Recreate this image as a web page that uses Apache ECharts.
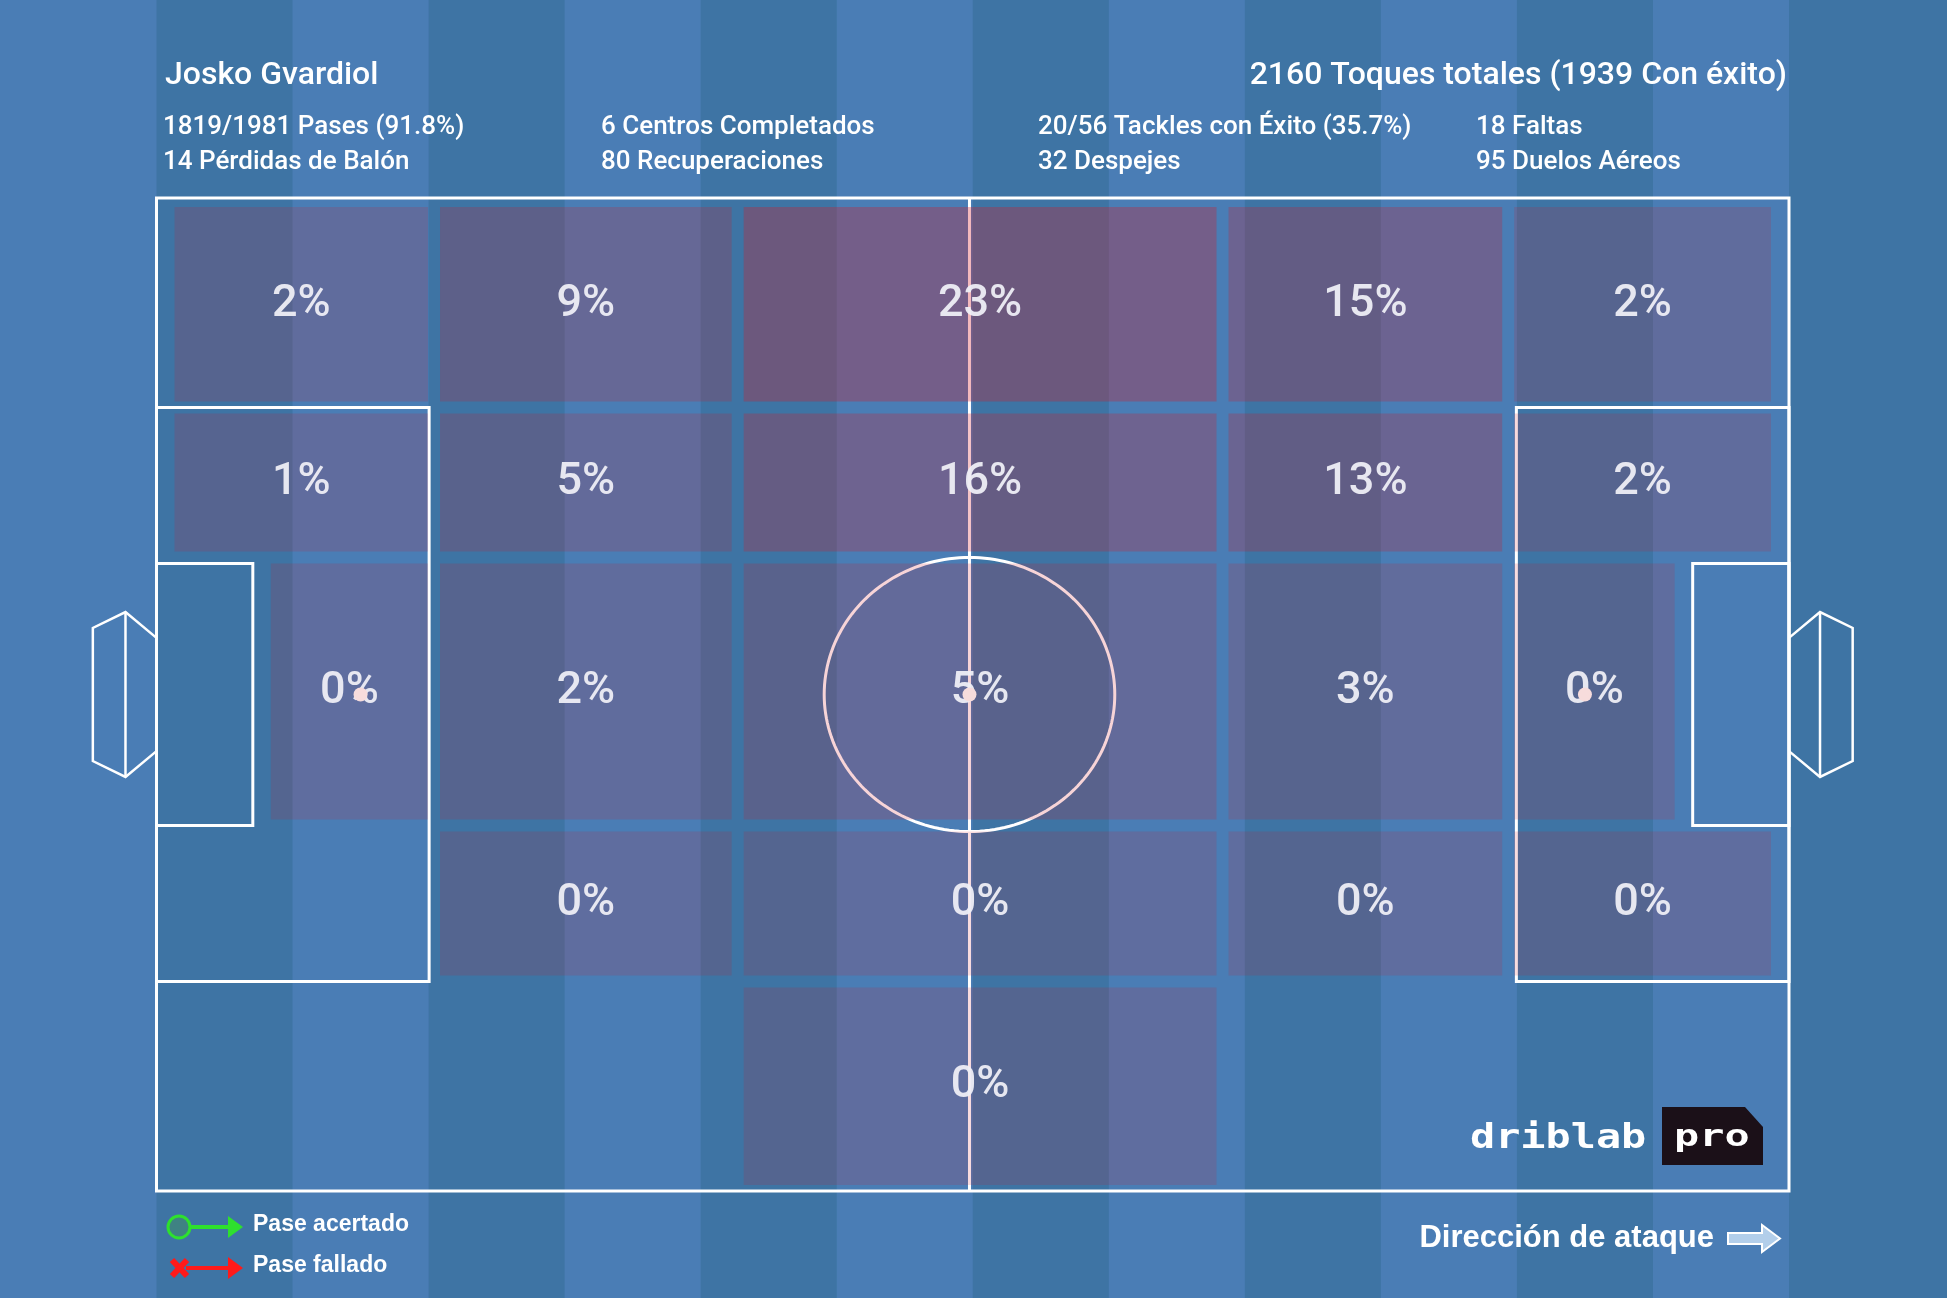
<!DOCTYPE html>
<html>
<head>
<meta charset="utf-8">
<script src="https://cdn.jsdelivr.net/npm/echarts@6/dist/echarts.min.js"></script>
<style>
html,body{margin:0;padding:0;background:#4a7db5;}
#c{width:1947px;height:1298px;}
</style>
</head>
<body>
<div id="c"></div>
<script>
// ---------------- DATA ----------------
const playerName = 'Josko Gvardiol';
const totalTouches = '2160 Toques totales (1939 Con éxito)';
const statsCol1 = ['1819/1981 Pases (91.8%)', '14 Pérdidas de Balón'];
const statsCol2 = ['6 Centros Completados', '80 Recuperaciones'];
const statsCol3 = ['20/56 Tackles con Éxito (35.7%)', '32 Despejes'];
const statsCol4 = ['18 Faltas', '95 Duelos Aéreos'];

// zone bin edges in pitch units (0-100); x = attacking direction, y = top to bottom
const zoneX = [0, 17, 35.6, 65.3, 82.8, 100];
const zoneY = [0, 21.1, 36.2, 63.2, 78.9, 100];

// share of touches per zone (%), [row][col]; null = no touches in zone
const row1Pct = [2, 9, 23, 15, 2];
const row2Pct = [1, 5, 16, 13, 2];
const row3Pct = [0, 2, 5, 3, 0];
const row4Pct = [null, 0, 0, 0, 0];
const row5Pct = [null, null, 0, null, null];
const zonePct = [row1Pct, row2Pct, row3Pct, row4Pct, row5Pct];

const legendLabels = ['Pase acertado', 'Pase fallado'];
const directionLabel = 'Dirección de ataque';

// ---------------- PITCH MARKINGS (Opta-like 100x100 units) ----------------
const PITCH = {
  midX: 49.8,
  boxDepth: 16.7, boxY: [21.1, 78.9],
  sixDepth: 5.9, sixY: [36.8, 63.2],
  circleRx: 8.9, circleRy: 13.8,
  spotX: 12.5,
  goalApex: 1.9, goalBack: 3.9, goalMouth: 5.7, goalApexHalf: 8.3, goalBackHalf: 6.7
};
const spots = [[PITCH.spotX, 50], [PITCH.midX, 50], [100 - PITCH.spotX, 50]];

const FONT = 'Roboto, "Liberation Sans", Arial, sans-serif';
const FONT_B = '"Liberation Sans", Arial, sans-serif';
const DARK_STRIPE = '#3e74a4';
const LINE = '#ffffff';

// build zone data
const zoneData = [];
zonePct.forEach((row, r) => row.forEach((v, c) => { if (v !== null) zoneData.push([c, r, v]); }));
const maxPct = Math.max(...zoneData.map(d => d[2]));

// dark stripe indices across the pitch (12 stripes) + one trailing margin stripe
const stripeIdx = [];
for (let k = 0; k <= 12; k += 2) stripeIdx.push([k]);

const chart = echarts.init(document.getElementById('c'), null, {renderer: 'canvas', width: 1947, height: 1298});

function stripesRender(params, api) {
  const k = api.value(0);
  const w = 100 / 12;
  const x0 = k * w, x1 = k === 12 ? 140 : (k + 1) * w;
  const a = api.coord([x0, -40]), b = api.coord([x1, 140]);
  return {type: 'rect', shape: {x: a[0], y: a[1], width: b[0] - a[0], height: b[1] - a[1]},
          style: {fill: DARK_STRIPE}};
}

function pitchRender(params, api) {
  const P = (x, y) => api.coord([x, y]);
  const st = {fill: 'none', stroke: LINE, lineWidth: 3};
  const rect = (x0, y0, x1, y1) => {
    const a = P(x0, y0), b = P(x1, y1);
    return {type: 'rect', shape: {x: a[0], y: a[1], width: b[0] - a[0], height: b[1] - a[1]}, style: st};
  };
  const kids = [];
  kids.push(rect(0, 0, 100, 100));
  const m0 = P(PITCH.midX, 0), m1 = P(PITCH.midX, 100);
  kids.push({type: 'line', shape: {x1: m0[0], y1: m0[1], x2: m1[0], y2: m1[1]}, style: st});
  kids.push(rect(0, PITCH.boxY[0], PITCH.boxDepth, PITCH.boxY[1]));
  kids.push(rect(100 - PITCH.boxDepth, PITCH.boxY[0], 100, PITCH.boxY[1]));
  kids.push(rect(0, PITCH.sixY[0], PITCH.sixDepth, PITCH.sixY[1]));
  kids.push(rect(100 - PITCH.sixDepth, PITCH.sixY[0], 100, PITCH.sixY[1]));
  const circ = [];
  for (let i = 0; i <= 180; i++) {
    const t = i / 180 * Math.PI * 2;
    circ.push(P(PITCH.midX + PITCH.circleRx * Math.cos(t), 50 + PITCH.circleRy * Math.sin(t)));
  }
  kids.push({type: 'polyline', shape: {points: circ}, style: st});
  [0, 1].forEach(side => {
    const fx = x => side === 0 ? x : 100 - x;
    const pts = [
      P(fx(0), 50 - PITCH.goalMouth), P(fx(-PITCH.goalApex), 50 - PITCH.goalApexHalf),
      P(fx(-PITCH.goalBack), 50 - PITCH.goalBackHalf), P(fx(-PITCH.goalBack), 50 + PITCH.goalBackHalf),
      P(fx(-PITCH.goalApex), 50 + PITCH.goalApexHalf), P(fx(0), 50 + PITCH.goalMouth)
    ];
    kids.push({type: 'polyline', shape: {points: pts}, style: {fill: 'none', stroke: LINE, lineWidth: 2.5}});
    const t = P(fx(-PITCH.goalApex), 50 - PITCH.goalApexHalf), b = P(fx(-PITCH.goalApex), 50 + PITCH.goalApexHalf);
    kids.push({type: 'line', shape: {x1: t[0], y1: t[1], x2: b[0], y2: b[1]}, style: {stroke: LINE, lineWidth: 2.5}});
  });
  return {type: 'group', children: kids};
}

function zoneRender(params, api) {
  const c = api.value(0), r = api.value(1), v = api.value(2);
  let x0 = zoneX[c], x1 = zoneX[c + 1];
  const y0 = zoneY[r], y1 = zoneY[r + 1];
  const centralRow = y0 < 50 && y1 > 50;
  let edgeL = x0 === 0, edgeR = x1 === 100;
  if (centralRow && c === 0) { x0 = PITCH.sixDepth; edgeL = true; }
  if (centralRow && c === zoneX.length - 2) { x1 = 100 - PITCH.sixDepth; edgeR = true; }
  const a = api.coord([x0, y0]), b = api.coord([x1, y1]);
  const inner = 6, edgeX = 18, edgeY = 9;
  const L = a[0] + (edgeL ? edgeX : inner);
  const R = b[0] - (edgeR ? edgeX : inner);
  const T = a[1] + (y0 === 0 ? edgeY : inner);
  const B = b[1] - (y1 === 100 ? 6 : inner);
  const alpha = 0.15 + 0.15 * v / maxPct;
  return {
    type: 'group',
    children: [
      {type: 'rect', shape: {x: L, y: T, width: R - L, height: B - T},
       style: {fill: 'rgba(214,22,36,' + alpha.toFixed(3) + ')'}},
      {type: 'text', x: (L + R) / 2, y: (T + B) / 2,
       style: {text: v + '%', fill: 'rgba(238,238,246,0.95)', font: '500 45px ' + FONT,
               textAlign: 'center', textVerticalAlign: 'middle'}}
    ]
  };
}

function spotRender(params, api) {
  const p = api.coord([api.value(0), api.value(1)]);
  return {type: 'circle', shape: {cx: p[0], cy: p[1], r: 7}, style: {fill: '#f7dcdc'}};
}

// ---------------- GRAPHIC (texts, legend, logo) ----------------
const g = [];
const txt = (x, y, text, font, align, fill) => ({
  type: 'text', x: x, y: y, z: 100,
  style: {text: text, font: font, fill: fill || '#ffffff', textAlign: align || 'left', textVerticalAlign: 'middle'}
});
g.push(txt(165, 76, playerName, '500 32px ' + FONT));
g.push(txt(1787, 76, totalTouches, '500 32px ' + FONT, 'right'));
[[statsCol1, 163], [statsCol2, 601], [statsCol3, 1038], [statsCol4, 1476]].forEach(([col, x]) => {
  g.push(txt(x, 127, col[0], '500 26px ' + FONT));
  g.push(txt(x, 162, col[1], '500 26px ' + FONT));
});
// legend: successful pass
g.push({type: 'line', z: 100, shape: {x1: 190, y1: 1227, x2: 230, y2: 1227}, style: {stroke: '#2ee02e', lineWidth: 4}});
g.push({type: 'polygon', z: 100, shape: {points: [[228, 1216], [243, 1227], [228, 1238]]}, style: {fill: '#2ee02e'}});
g.push({type: 'circle', z: 101, shape: {cx: 179, cy: 1227, r: 11}, style: {fill: '#3f8283', stroke: '#2ee02e', lineWidth: 3}});
g.push(txt(253, 1225, legendLabels[0], 'bold 23px ' + FONT_B));
// legend: failed pass
g.push({type: 'line', z: 100, shape: {x1: 186, y1: 1268, x2: 230, y2: 1268}, style: {stroke: '#ff1a1a', lineWidth: 4}});
g.push({type: 'polygon', z: 100, shape: {points: [[228, 1257], [243, 1268], [228, 1279]]}, style: {fill: '#ff1a1a'}});
g.push({type: 'line', z: 101, shape: {x1: 172, y1: 1260, x2: 187, y2: 1276}, style: {stroke: '#ff1a1a', lineWidth: 6}});
g.push({type: 'line', z: 101, shape: {x1: 172, y1: 1276, x2: 187, y2: 1260}, style: {stroke: '#ff1a1a', lineWidth: 6}});
g.push(txt(253, 1266, legendLabels[1], 'bold 23px ' + FONT_B));
// direction of attack
g.push(txt(1714, 1238, directionLabel, 'bold 31px ' + FONT_B, 'right'));
g.push({type: 'polygon', z: 100,
  shape: {points: [[1728, 1233], [1762, 1233], [1762, 1225], [1780, 1238.5], [1762, 1252], [1762, 1244], [1728, 1244]]},
  style: {fill: 'rgba(190,215,240,0.9)', stroke: '#ffffff', lineWidth: 2}});
// logo
g.push({type: 'text', x: 1470, y: 1139, z: 100, scaleX: 1.23,
  style: {text: 'driblab', font: 'bold 34px "DejaVu Sans Mono", monospace', fill: '#ffffff', textAlign: 'left', textVerticalAlign: 'middle'}});
g.push({type: 'polygon', z: 100,
  shape: {points: [[1662, 1107], [1745, 1107], [1763, 1127], [1763, 1165], [1662, 1165]]},
  style: {fill: '#1b1018'}});
g.push({type: 'text', x: 1674, y: 1138, z: 101, scaleX: 1.35,
  style: {text: 'pro', font: 'bold 31px "DejaVu Sans Mono", monospace', fill: '#ffffff', textAlign: 'left', textVerticalAlign: 'middle'}});

const option = {
  backgroundColor: '#4a7db5',
  animation: false,
  grid: {left: 156.5, right: 158, top: 198, bottom: 107},
  xAxis: {type: 'value', min: 0, max: 100, show: false},
  yAxis: {type: 'value', min: 0, max: 100, inverse: true, show: false},
  graphic: {elements: g},
  series: [
    {type: 'custom', name: 'stripes', data: stripeIdx, renderItem: stripesRender, clip: false, silent: true, z: 0},
    {type: 'custom', name: 'pitch', data: [[0]], renderItem: pitchRender, clip: false, silent: true, z: 1},
    {type: 'custom', name: 'zones', data: zoneData, renderItem: zoneRender, clip: false, silent: true, z: 2},
    {type: 'custom', name: 'spots', data: spots, renderItem: spotRender, clip: false, silent: true, z: 3}
  ]
};
chart.setOption(option);
</script>
</body>
</html>
